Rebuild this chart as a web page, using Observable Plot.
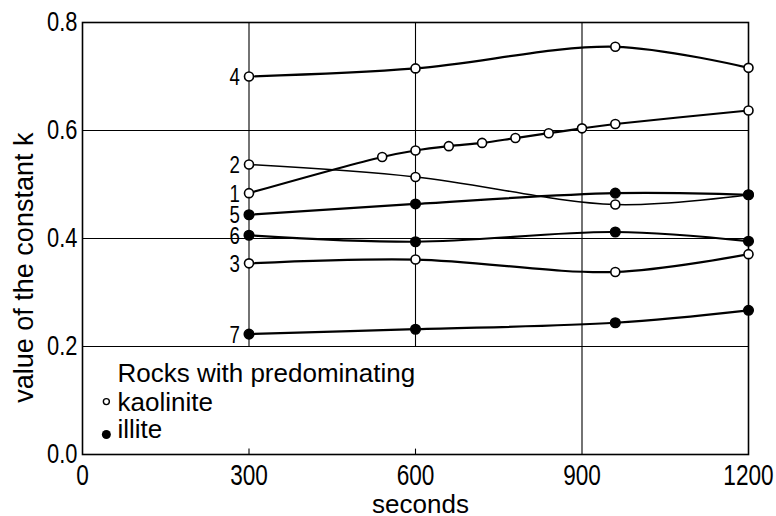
<!DOCTYPE html>
<html>
<head>
<meta charset="utf-8">
<script src="https://cdn.jsdelivr.net/npm/d3@7"></script>
<script src="https://cdn.jsdelivr.net/npm/@observablehq/plot@0.6"></script>
<style>
  html, body { margin: 0; padding: 0; background: #fff; }
  #chart { width: 776px; height: 516px; }
</style>
</head>
<body>
<div id="chart"></div>
<script>
// ---- data ----
const xTicks = [0, 300, 600, 900, 1200];
const yTicks = [0.0, 0.2, 0.4, 0.6, 0.8];
const yTickLabels = ["0.0", "0.2", "0.4", "0.6", "0.8"];
const xLabel = "seconds";
const yLabel = "value of the constant k";
const legendTitle = "Rocks with predominating";
const legendTypes = ["kaolinite", "illite"];

// series: id, mineral type (open = kaolinite, filled = illite)
const seriesIds   = ["1", "2", "3", "4", "5", "6", "7"];
const seriesType  = ["kaolinite", "kaolinite", "kaolinite", "kaolinite", "illite", "illite", "illite"];
const s1x = [300, 540, 600, 660, 720, 780, 840, 900, 960, 1200];
const s1y = [0.484, 0.551, 0.563, 0.571, 0.577, 0.586, 0.595, 0.604, 0.612, 0.637];
const sx  = [300, 600, 960, 1200];
const s2y = [0.537, 0.514, 0.463, 0.481];
const s3y = [0.354, 0.361, 0.338, 0.371];
const s4y = [0.700, 0.715, 0.755, 0.716];
const s5y = [0.444, 0.464, 0.484, 0.481];
const s6y = [0.406, 0.394, 0.412, 0.395];
const s7y = [0.223, 0.232, 0.244, 0.267];

const seriesX = {"1": s1x, "2": sx, "3": sx, "4": sx, "5": sx, "6": sx, "7": sx};
const seriesY = {"1": s1y, "2": s2y, "3": s3y, "4": s4y, "5": s5y, "6": s6y, "7": s7y};

const rows = [];
seriesIds.forEach((id, k) => {
  seriesX[id].forEach((x, i) => rows.push({id, type: seriesType[k], x, y: seriesY[id][i]}));
});
const firstPts = rows.filter(d => d.x === 300);

const numFont = "'Liberation Sans', Arial, sans-serif";
const txtFont = "'Liberation Sans', Arial, sans-serif";

const thin = rows.filter(d => d.id === "2");
const thick = rows.filter(d => d.id !== "2");

const chart = Plot.plot({
  width: 776,
  height: 516,
  marginLeft: 82,
  marginRight: 28,
  marginTop: 22,
  marginBottom: 62,
  x: {domain: [0, 1200]},
  y: {domain: [0, 0.8]},
  style: {background: "#fff", color: "#000"},
  marks: [
    // grid
    Plot.ruleY([yTicks[1], yTicks[2], yTicks[3]], {stroke: "#000", strokeWidth: 1.1}),
    Plot.ruleX([xTicks[1], xTicks[2]], {y1: yTicks[1], y2: yTicks[4], stroke: "#000", strokeWidth: 1.1}),
    Plot.ruleX([xTicks[1], xTicks[2]], {y1: 0, y2: 0.01, stroke: "#000", strokeWidth: 1.1}),
    Plot.ruleX([xTicks[3]], {y1: 0, y2: yTicks[4], stroke: "#000", strokeWidth: 1.1}),
    Plot.frame({stroke: "#000", strokeWidth: 1.6}),
    // axes
    Plot.axisX({ticks: xTicks, tickSize: 0, tickPadding: 10, fontSize: 29, fontFamily: numFont,
      tickFormat: d => String(d), label: null, className: "narrow"}),
    Plot.axisY({ticks: yTicks, tickSize: 0, tickPadding: 5, fontSize: 28, fontFamily: numFont,
      tickFormat: (d, i) => yTickLabels[i], label: null, className: "narrow"}),
    Plot.text([yLabel], {frameAnchor: "left", y: () => 0.346, rotate: -90, dx: -58,
      textAnchor: "middle", lineAnchor: "middle",
      fontSize: 27, fontFamily: txtFont, fill: "#000", text: d => d}),
    Plot.text([xLabel], {frameAnchor: "bottom", x: () => 609, dy: 50,
      textAnchor: "middle", lineAnchor: "middle",
      fontSize: 26, fontFamily: txtFont, fill: "#000", text: d => d}),
    // lines
    Plot.line(thick, {x: "x", y: "y", z: "id", curve: "catmull-rom", stroke: "#000", strokeWidth: 2.2}),
    Plot.line(thin, {x: "x", y: "y", z: "id", curve: "catmull-rom", stroke: "#000", strokeWidth: 1.5}),
    // markers
    Plot.dot(rows.filter(d => d.type === "kaolinite"), {x: "x", y: "y", r: 4.5, fill: "#fff", stroke: "#000", strokeWidth: 1.6}),
    Plot.dot(rows.filter(d => d.type === "illite"), {x: "x", y: "y", r: 4.8, fill: "#000", stroke: "#000"}),
    // series labels
    Plot.text(firstPts, {x: "x", y: "y", text: "id", textAnchor: "end", dx: -9, dy: 1,
      fontSize: 24, fontFamily: numFont, fill: "#000", className: "narrow"}),
    // legend
    Plot.text([legendTitle], {x: () => 63, y: () => 0.150, textAnchor: "start",
      fontSize: 26, fontFamily: txtFont, fill: "#000", text: d => d}),
    Plot.text(legendTypes, {x: () => 63, y: (d, i) => [0.096, 0.046][i], textAnchor: "start",
      fontSize: 26, fontFamily: txtFont, fill: "#000", text: d => d}),
    Plot.dot([legendTypes[0]], {x: () => 43, y: () => 0.098, r: 3, fill: "#fff", stroke: "#000", strokeWidth: 1.4}),
    Plot.dot([legendTypes[1]], {x: () => 43, y: () => 0.037, r: 4.5, fill: "#000"})
  ]
});
document.getElementById("chart").appendChild(chart);
// condense the numeric labels horizontally, like the reference's narrow typeface
chart.querySelectorAll(".narrow text").forEach(t => {
  const w = t.getComputedTextLength();
  t.setAttribute("textLength", (w * 0.78).toFixed(1));
  t.setAttribute("lengthAdjust", "spacingAndGlyphs");
});
</script>
</body>
</html>
